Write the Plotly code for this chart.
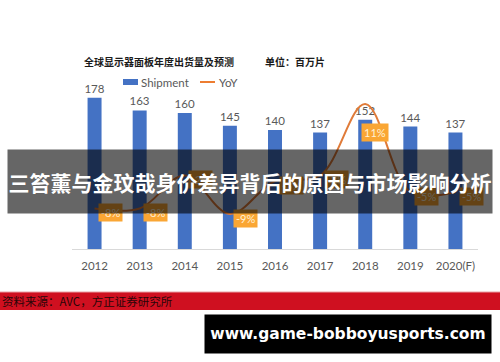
import plotly.graph_objects as go

years = ["2012", "2013", "2014", "2015", "2016", "2017", "2018", "2019", "2020(F)"]
shipment = [178, 163, 160, 145, 140, 137, 152, 144, 137]
yoy = [-8, -8, -2, -9, -3, -2, 11, -5, -5]
yoy_labels = ["-8%", "-8%", "-2%", "-9%", "-3%", "-2%", "11%", "-5%", "-5%"]

chart_title = "全球显示器面板年度出货量及预测"
unit_text = "单位：百万片"
banner_text = "三笞薰与金玟哉身价差异背后的原因与市场影响分析"
source_text = "资料来源：AVC，方正证券研究所"
site_text = "www.game-bobboyusports.com"

W, H = 500, 362
L, R, T, B = 72, 478, 79, 249
pw, ph = R - L, B - T

def px(x):
    return (x - L) / pw

def py(y):
    return (B - y) / ph

idx = list(range(len(years)))

fig = go.Figure()
fig.add_trace(go.Bar(
    x=idx, y=shipment, name="Shipment",
    marker=dict(color="#4472C4", line=dict(width=0)),
    width=0.31,
    text=[str(v) for v in shipment], textposition="outside", constraintext="none",
    textfont=dict(family="Lato, Open Sans, sans-serif", size=11.5, color="#595959"),
    cliponaxis=False, yaxis="y",
))
fig.add_trace(go.Scatter(
    x=idx, y=yoy, name="YoY", yaxis="y2", mode="lines",
    line=dict(color="#E07B39", width=2, shape="spline", smoothing=1.0),
))

annotations = []
for i, (v, lab) in enumerate(zip(yoy, yoy_labels)):
    xs, ys = 16, -4
    if v > 5:
        xs, ys = 10, -28
    annotations.append(dict(
        x=i, y=v, xref="x", yref="y2", text=lab, showarrow=False,
        xshift=xs, yshift=ys, bgcolor="#FAA634", borderpad=2,
        font=dict(family="Lato, Open Sans, sans-serif", size=11, color="#FFF1D6"),
    ))

annotations.append(dict(x=px(82), y=py(62), xref="paper", yref="paper", xanchor="left",
                        yanchor="middle", showarrow=False, text="<b>" + chart_title + "</b>",
                        font=dict(family="Noto Sans CJK SC", size=10, color="#1A1A1A")))
annotations.append(dict(x=px(263), y=py(62), xref="paper", yref="paper", xanchor="left",
                        yanchor="middle", showarrow=False, text="<b>" + unit_text + "</b>",
                        font=dict(family="Noto Sans CJK SC", size=10, color="#1A1A1A")))
annotations.append(dict(x=px(139), y=py(82), xref="paper", yref="paper", xanchor="left",
                        yanchor="middle", showarrow=False, text="Shipment",
                        font=dict(family="Lato, Open Sans, sans-serif", size=11.5, color="#595959")))
annotations.append(dict(x=px(217), y=py(82), xref="paper", yref="paper", xanchor="left",
                        yanchor="middle", showarrow=False, text="YoY",
                        font=dict(family="Lato, Open Sans, sans-serif", size=11.5, color="#595959")))
annotations.append(dict(x=px(250), y=py(181.5), xref="paper", yref="paper", xanchor="center",
                        yanchor="middle", showarrow=False, text="<b>" + banner_text + "</b>",
                        width=484, height=63, bgcolor="rgba(0,0,0,0.6)", borderpad=0,
                        font=dict(family="Noto Sans CJK SC", size=21, color="#FFFFFF")))
annotations.append(dict(x=px(0), y=py(301), xref="paper", yref="paper", xanchor="left",
                        yanchor="middle", showarrow=False, text=source_text,
                        font=dict(family="Noto Sans CJK SC", size=11.5, color="#2A0608")))
annotations.append(dict(x=px(348), y=py(334), xref="paper", yref="paper", xanchor="center",
                        yanchor="middle", showarrow=False, text="<b>" + site_text + "</b>",
                        width=286, height=38, bgcolor="#000000", borderpad=0,
                        font=dict(family="DejaVu Sans", size=15.5, color="#FFFFFF")))

shapes = [
    dict(type="rect", xref="paper", yref="paper", x0=px(123), x1=px(138), y0=py(85), y1=py(79),
         fillcolor="#4472C4", line=dict(width=0)),
    dict(type="line", xref="paper", yref="paper", x0=px(200), x1=px(215), y0=py(82), y1=py(82),
         line=dict(color="#ED7D31", width=2)),
    dict(type="rect", xref="paper", yref="paper", x0=px(0), x1=px(500), y0=py(310), y1=py(292),
         fillcolor="#CF1020", line=dict(width=0)),
    dict(type="line", xref="paper", yref="paper", x0=px(0), x1=px(500), y0=py(292), y1=py(292),
         line=dict(color="#E8A0A4", width=1)),
]

fig.update_layout(
    width=W, height=H,
    margin=dict(l=L, r=W - R, t=T, b=H - B, pad=0),
    paper_bgcolor="white", plot_bgcolor="white",
    showlegend=False,
    xaxis=dict(range=[-0.5, len(years) - 0.5], tickmode="array", tickvals=idx, ticktext=years,
               showline=True, linecolor="#D9D9D9", linewidth=1, ticklabelstandoff=6,
               showgrid=False, ticks="", zeroline=False, fixedrange=True,
               tickfont=dict(family="Lato, Open Sans, sans-serif", size=11.5, color="#595959")),
    yaxis=dict(range=[0, 200], visible=False, fixedrange=True),
    yaxis2=dict(range=[-15.36, 15.55], overlaying="y", visible=False, fixedrange=True),
    annotations=annotations,
    shapes=shapes,
)

fig.write_html("out.html")
